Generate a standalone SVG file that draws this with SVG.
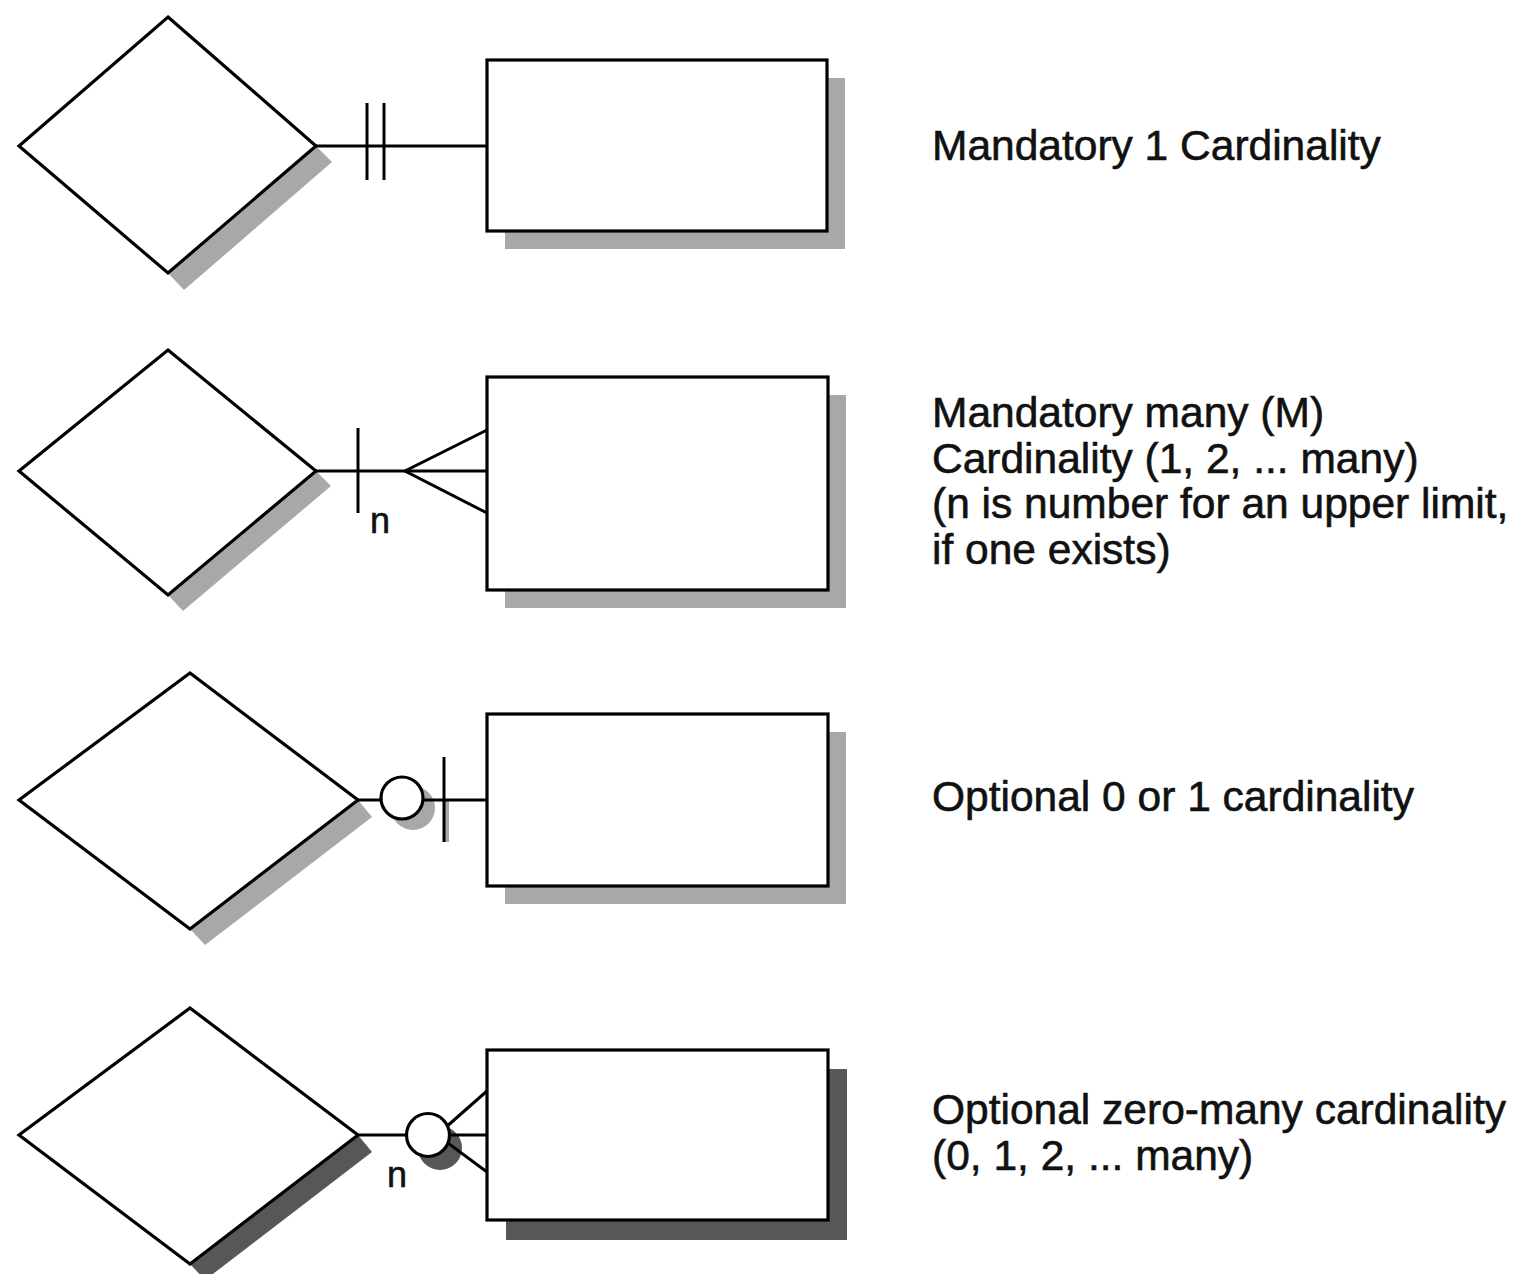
<svg xmlns="http://www.w3.org/2000/svg" width="1517" height="1274" viewBox="0 0 1517 1274">
<style>
.shape{fill:#fff;stroke:#000;stroke-width:3.2;stroke-linejoin:miter}
.sh{fill:#a8a8a8;stroke:none}
.shd{fill:#575757;stroke:none}
.ln{fill:none;stroke:#000;stroke-width:3}
.lbl{font-family:"Liberation Sans",Arial,Helvetica,sans-serif;font-size:42.5px;fill:#111;stroke:#111;stroke-width:0.6}
.n{font-family:"Liberation Sans",Arial,Helvetica,sans-serif;font-size:36px;fill:#111;stroke:#111;stroke-width:0.6}
</style>
<rect width="1517" height="1274" fill="#fff"/>
<g id="shadows">
<polygon class="sh" points="316,146 332,162 184,290 168,273"/>
<rect class="sh" x="505" y="78" width="340" height="171"/>
<polygon class="sh" points="316,471 331,486 183,611 168,595"/>
<rect class="sh" x="505" y="395" width="341" height="213"/>
<polygon class="sh" points="358,800 372,817 205,945 190,929"/>
<rect class="sh" x="505" y="732" width="341" height="172"/>
<circle class="sh" cx="413" cy="808" r="22"/>
<rect class="sh" x="443" y="800" width="6" height="42"/>
<polygon class="shd" points="358,1135 372,1152 205,1280 190,1264"/>
<rect class="shd" x="506" y="1069" width="341" height="171"/>
<circle class="shd" cx="440" cy="1148" r="22"/>
</g>
<g id="connectors">
<line class="ln" x1="316" y1="146" x2="487" y2="146"/>
<line class="ln" x1="367" y1="103" x2="367" y2="180"/>
<line class="ln" x1="384" y1="103" x2="384" y2="180"/>
<line class="ln" x1="316" y1="471" x2="487" y2="471"/>
<line class="ln" x1="358" y1="428" x2="358" y2="513"/>
<polyline class="ln" points="487,430 405,471 487,513"/>
<line class="ln" x1="358" y1="800" x2="381" y2="800"/>
<line class="ln" x1="424" y1="800" x2="487" y2="800"/>
<line class="ln" x1="444" y1="757" x2="444" y2="842"/>
<line class="ln" x1="358" y1="1135" x2="407" y2="1135"/>
<line class="ln" x1="437" y1="1135" x2="487" y2="1135"/>
<polyline class="ln" points="487,1091 437,1135 487,1172"/>
</g>
<g id="row1-relationship"><polygon class="shape" points="168,17 316,146 168,273 19,146"/></g>
<g id="row1-entity"><rect class="shape" x="487" y="60" width="340" height="171"/></g>
<g id="row2-relationship"><polygon class="shape" points="168,350 316,471 168,595 19,471"/></g>
<g id="row2-entity"><rect class="shape" x="487" y="377" width="341" height="213"/></g>
<g id="row3-relationship"><polygon class="shape" points="190,673 358,800 190,929 19,800"/></g>
<g id="row3-entity"><rect class="shape" x="487" y="714" width="341" height="172"/></g>
<g id="row3-circle"><circle class="shape" cx="402" cy="798" r="21"/></g>
<g id="row4-relationship"><polygon class="shape" points="190,1008 358,1135 190,1264 19,1135"/></g>
<g id="row4-entity"><rect class="shape" x="487" y="1050" width="341" height="170"/></g>
<g id="row4-circle"><circle class="shape" cx="428" cy="1135" r="21.5"/></g>
<g id="labels">
<text class="n" x="370" y="533">n</text>
<text class="n" x="387" y="1187">n</text>
<text class="lbl" x="932" y="160">Mandatory 1 Cardinality</text>
<text class="lbl" x="932" y="427">Mandatory many (M)</text>
<text class="lbl" x="932" y="473">Cardinality (1, 2, ... many)</text>
<text class="lbl" x="932" y="518">(n is number for an upper limit,</text>
<text class="lbl" x="932" y="564">if one exists)</text>
<text class="lbl" x="932" y="811">Optional 0 or 1 cardinality</text>
<text class="lbl" x="932" y="1124">Optional zero-many cardinality</text>
<text class="lbl" x="932" y="1170">(0, 1, 2, ... many)</text>
</g>
</svg>
